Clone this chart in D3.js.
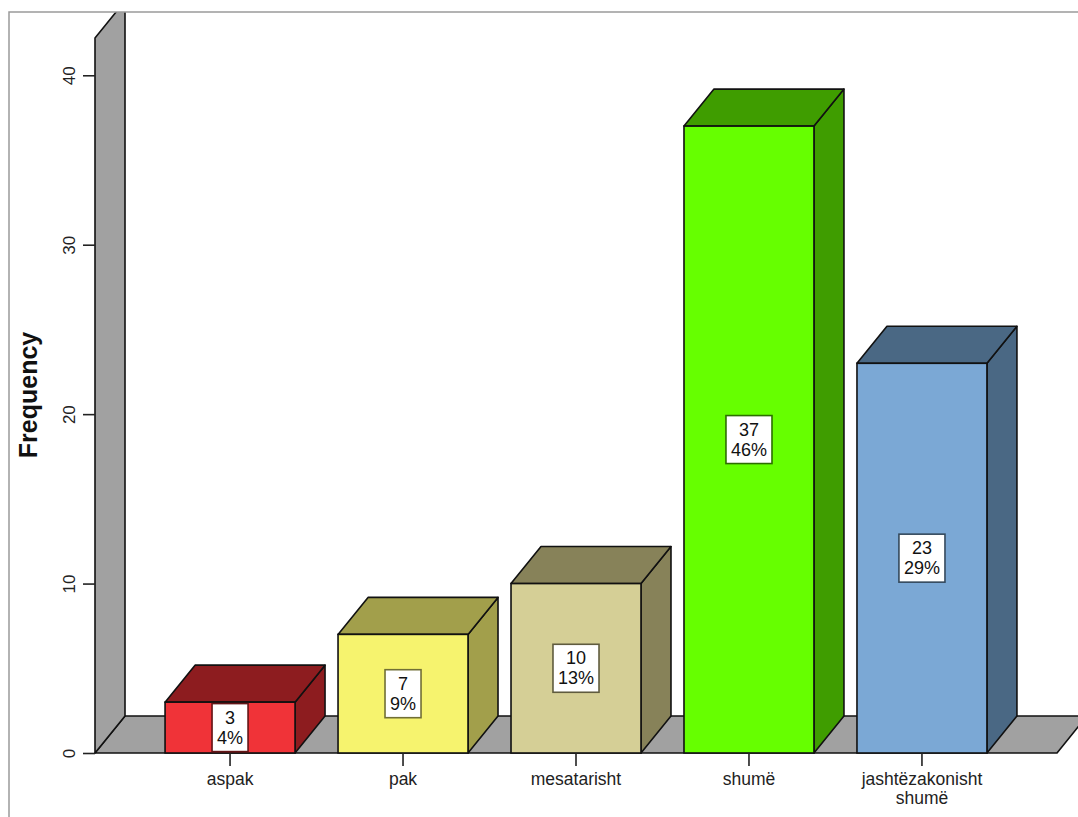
<!DOCTYPE html>
<html>
<head>
<meta charset="utf-8">
<script src="https://cdn.jsdelivr.net/npm/d3@7"></script>
<style>
  html, body { margin: 0; padding: 0; background: #fff; }
  svg { display: block; font-family: "Liberation Sans", Arial, sans-serif; }
</style>
</head>
<body>
<script>
// Frequency counts per answer category
const categories = ["aspak", "pak", "mesatarisht", "shumë", "jashtëzakonisht shumë"];
const counts = [3, 7, 10, 37, 23];
const frontColors = ["#f03338", "#f6f36e", "#d5cf96", "#66ff00", "#7ba8d5"];
const shadeColors = ["#8d1c1f", "#a29f4b", "#878259", "#3f9d00", "#4a6884"];
const yTicks = [0, 10, 20, 30, 40];
const yMax = 42.2;

const W = 1078, H = 817;
const dx = 30, dy = -37;   // depth offset of the 3D extrusion
const total = d3.sum(counts);

const svg = d3.select("body").append("svg").attr("width", W).attr("height", H);

const x = d3.scaleBand().domain(categories).range([95, 1057])
  .paddingInner(0.2486).paddingOuter(0.405);
const y = d3.scaleLinear().domain([0, yMax]).range([753, 38]);

svg.append("defs").append("clipPath").attr("id", "frame")
  .append("rect").attr("x", 9).attr("y", 12).attr("width", W).attr("height", H);

const g = svg.append("g").attr("clip-path", "url(#frame)");
const line = d3.line();
const poly = pts => line(pts) + "Z";

const [x0, x1] = x.range();
const y0 = y(0), yTop = y(yMax);

// floor
g.append("path")
  .attr("d", poly([[x0, y0], [x1, y0], [x1 + dx, y0 + dy], [x0 + dx, y0 + dy]]))
  .attr("fill", "#a1a1a1").attr("stroke", "#111").attr("stroke-width", 1.6)
  .attr("stroke-linejoin", "round");

// back wall
g.append("path")
  .attr("d", poly([[x0, y0], [x0, yTop], [x0 + dx, yTop + dy], [x0 + dx, y0 + dy]]))
  .attr("fill", "#a1a1a1").attr("stroke", "#111").attr("stroke-width", 1.6)
  .attr("stroke-linejoin", "round");

// y axis ticks on the wall front edge
const yAxis = g.append("g").attr("transform", `translate(${x0},0)`)
  .call(d3.axisLeft(y).tickValues(yTicks).tickSize(12).tickFormat(d3.format("d")));
yAxis.select(".domain").remove();
yAxis.selectAll(".tick line").attr("stroke", "#222").attr("stroke-width", 1.6);
yAxis.selectAll(".tick text")
  .attr("x", null).attr("dy", null)
  .attr("transform", "translate(-20,0) rotate(-90)")
  .attr("text-anchor", "middle")
  .attr("fill", "#222")
  .style("font-size", "17px")
  .style("font-family", "'Liberation Sans', Arial, sans-serif");

// bars
const bars = g.selectAll("g.bar").data(categories).join("g").attr("class", "bar");
bars.each(function (c, i) {
  const b = d3.select(this);
  const xl = x(c), xr = xl + x.bandwidth(), yt = y(counts[i]);
  b.append("path")
    .attr("d", poly([[xr, yt], [xr + dx, yt + dy], [xr + dx, y0 + dy], [xr, y0]]))
    .attr("fill", shadeColors[i]).attr("stroke", "#111").attr("stroke-width", 1.6)
    .attr("stroke-linejoin", "round");
  b.append("path")
    .attr("d", poly([[xl, yt], [xl + dx, yt + dy], [xr + dx, yt + dy], [xr, yt]]))
    .attr("fill", shadeColors[i]).attr("stroke", "#111").attr("stroke-width", 1.6)
    .attr("stroke-linejoin", "round");
  b.append("rect")
    .attr("x", xl).attr("y", yt).attr("width", x.bandwidth()).attr("height", y0 - yt)
    .attr("fill", frontColors[i]).attr("stroke", "#111").attr("stroke-width", 1.6);

  // value label: count and percentage
  const cx = xl + x.bandwidth() / 2, cy = (yt + y0) / 2;
  const lab = b.append("g").attr("transform", `translate(${cx},${cy})`);
  const box = lab.append("rect");
  const lines = [String(counts[i]), Math.round(counts[i] / total * 100) + "%"];
  const texts = lab.selectAll("text").data(lines).join("text")
    .attr("text-anchor", "middle")
    .attr("y", (d, k) => (k === 0 ? -4 : 16))
    .attr("fill", "#111")
    .style("font-size", "18px")
    .text(d => d);
  let tw = 0;
  texts.each(function () { tw = Math.max(tw, this.getComputedTextLength()); });
  const bw = tw + 10, bh = 48;
  box.attr("x", -bw / 2).attr("y", -bh / 2).attr("width", bw).attr("height", bh)
    .attr("fill", "#fff")
    .attr("stroke", d3.color(shadeColors[i]).darker(1).formatHex())
    .attr("stroke-width", 1.6);

  // category tick and label
  b.append("line").attr("x1", cx).attr("x2", cx).attr("y1", y0).attr("y2", y0 + 13)
    .attr("stroke", "#222").attr("stroke-width", 1.6);
  b.append("text").attr("text-anchor", "middle").attr("fill", "#222")
    .style("font-size", "17.5px")
    .selectAll("tspan").data(c.split(" ")).join("tspan")
    .attr("x", cx).attr("y", (d, k) => 785 + k * 19)
    .text(d => d);
});

// y axis title
svg.append("text")
  .attr("transform", "translate(37,395) rotate(-90)")
  .attr("text-anchor", "middle")
  .attr("fill", "#111")
  .style("font-size", "25px").style("font-weight", "bold")
  .text("Frequency");

// outer frame
svg.append("rect").attr("x", 9).attr("y", 12).attr("width", W).attr("height", H)
  .attr("fill", "none").attr("stroke", "#9a9a9a").attr("stroke-width", 1.5);
</script>
</body>
</html>
